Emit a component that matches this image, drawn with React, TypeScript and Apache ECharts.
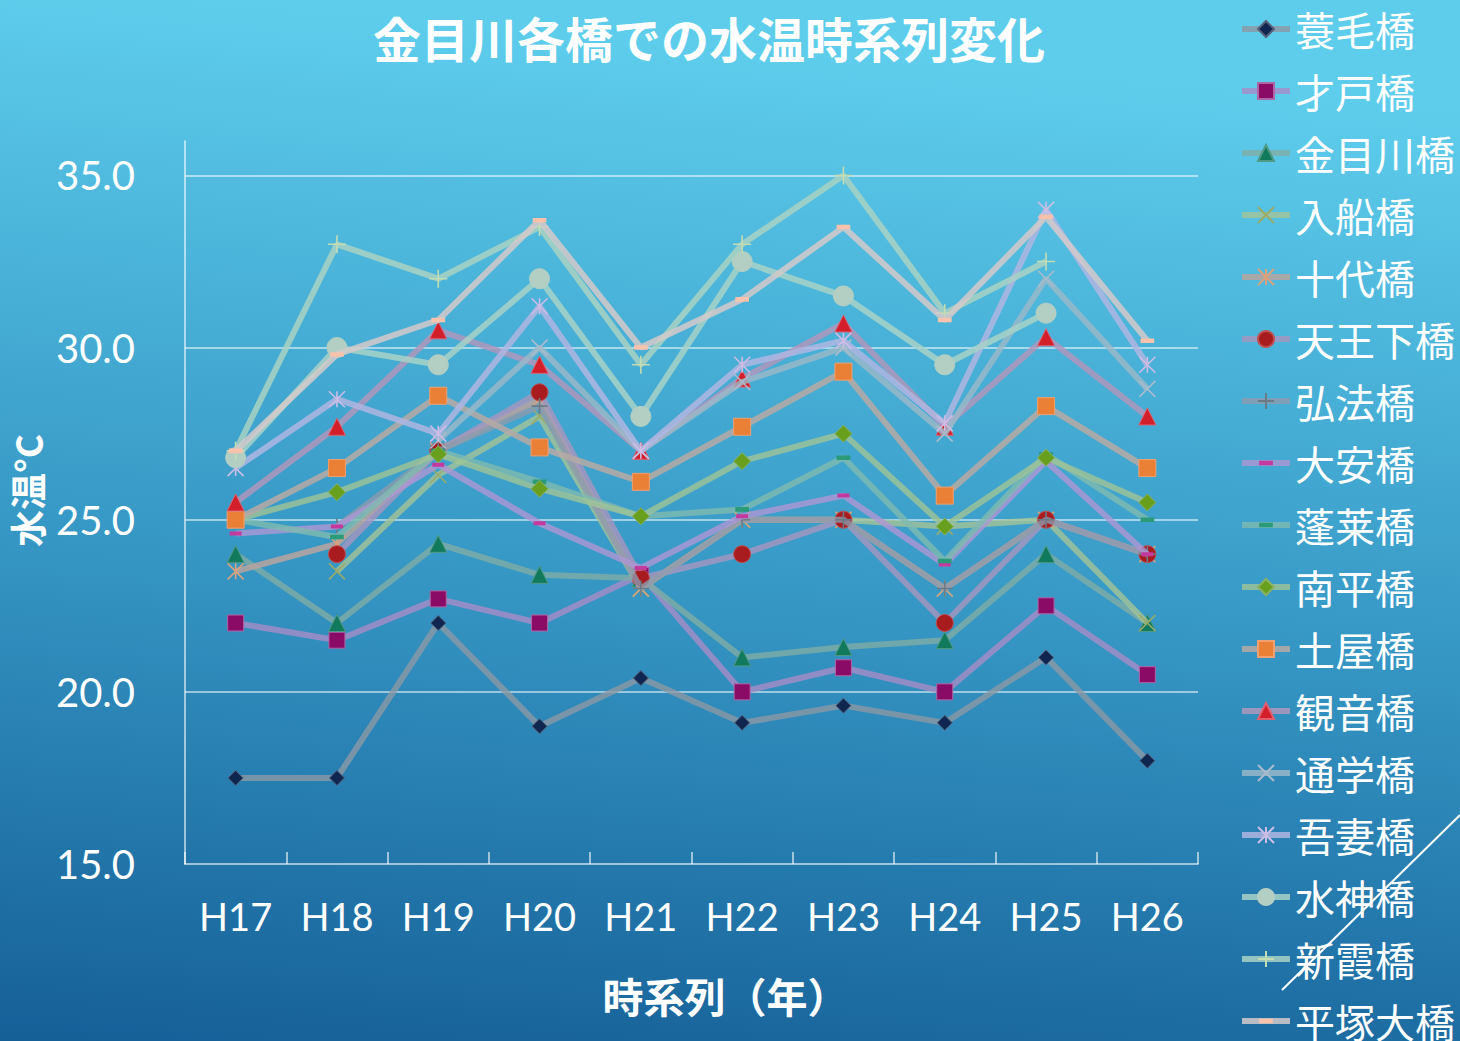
import React, { useEffect, useRef } from "react";
import * as echarts from "echarts";

const categories = ["H17", "H18", "H19", "H20", "H21", "H22", "H23", "H24", "H25", "H26"];

const seriesNames = [
  "蓑毛橋", "才戸橋", "金目川橋", "入船橋", "十代橋", "天王下橋", "弘法橋", "大安橋",
  "蓬莱橋", "南平橋", "土屋橋", "観音橋", "通学橋", "吾妻橋", "水神橋", "新霞橋", "平塚大橋",
];

const minoge = [17.5, 17.5, 22.0, 19.0, 20.4, 19.1, 19.6, 19.1, 21.0, 18.0];
const saido = [22.0, 21.5, 22.7, 22.0, 23.4, 20.0, 20.7, 20.0, 22.5, 20.5];
const kanamegawa = [24.0, 22.0, 24.3, 23.4, 23.3, 21.0, 21.3, 21.5, 24.0, 22.0];
const irifune = [null, 23.5, 26.3, 28.0, 23.0, 25.0, 25.0, 24.8, 25.0, 22.0];
const judai = [23.5, 24.3, 27.0, 28.5, 23.0, 25.0, 25.0, 23.0, 25.0, 24.0];
const tennoshita = [null, 24.0, 27.0, 28.7, 23.3, 24.0, 25.0, 22.0, 25.0, 24.0];
const kobo = [null, 24.8, 27.0, 28.3, 23.0, 25.0, 25.0, 23.0, 25.0, 24.0];
const daian = [24.6, 24.8, 26.6, 24.9, 23.6, 25.1, 25.7, 23.7, 26.7, 24.0];
const horai = [25.0, 24.5, 27.0, 26.1, 25.1, 25.3, 26.8, 23.8, 26.9, 25.0];
const nampei = [25.0, 25.8, 26.9, 25.9, 25.1, 26.7, 27.5, 24.8, 26.8, 25.5];
const tsuchiya = [25.0, 26.5, 28.6, 27.1, 26.1, 27.7, 29.3, 25.7, 28.3, 26.5];
const kannon = [25.5, 27.7, 30.5, 29.5, 27.0, 29.1, 30.7, 27.7, 30.3, 28.0];
const tsugaku = [null, null, 27.3, 30.0, 27.0, 29.0, 30.0, 27.5, 32.0, 28.8];
const azuma = [26.5, 28.5, 27.5, 31.2, 27.0, 29.5, 30.2, 27.8, 34.0, 29.5];
const suijin = [26.8, 30.0, 29.5, 32.0, 28.0, 32.5, 31.5, 29.5, 31.0, null];
const shinkasumi = [27.0, 33.0, 32.0, 33.5, 29.5, 33.0, 35.0, 31.0, 32.5, null];
const hiratsuka = [27.0, 29.8, 30.8, 33.7, 30.0, 31.4, 33.5, 30.8, 33.8, 30.2];

const seriesValues = [
  minoge, saido, kanamegawa, irifune, judai, tennoshita, kobo, daian,
  horai, nampei, tsuchiya, kannon, tsugaku, azuma, suijin, shinkasumi, hiratsuka,
];

const yTicks = [15, 20, 25, 30, 35];

const SYM_X = "path://M0,0L10,10M10,0L0,10";
const SYM_AST = "path://M0,0L10,10M10,0L0,10M5,0L5,10";
const SYM_PLUS = "path://M5,0L5,10M0,5L10,5";
// square bounding box (zero-area corner points) with a filled dash in the middle
const SYM_DASH = "path://M0,0L0.01,0L0,0ZM1,5L13,5L13,9L1,9ZM14,14L13.99,14L14,14Z";

type Sty = { line: string; marker: string; border: string; symbol: string; size: number; stroke?: boolean; dash?: boolean };

const styles: Sty[] = [
  { line: "rgba(140,152,165,0.8)", marker: "#0f2650", border: "#55607a", symbol: "diamond", size: 15 },
  { line: "rgba(168,140,200,0.8)", marker: "#8a0b66", border: "#b065a5", symbol: "rect", size: 16 },
  { line: "rgba(128,172,165,0.8)", marker: "#127a5c", border: "#4f9a85", symbol: "triangle", size: 17 },
  { line: "rgba(165,195,150,0.8)", marker: "#9aaa68", border: "#9aaa68", symbol: SYM_X, size: 16, stroke: true },
  { line: "rgba(185,165,160,0.85)", marker: "#d9a27c", border: "#d9a27c", symbol: SYM_AST, size: 16, stroke: true },
  { line: "rgba(168,150,190,0.8)", marker: "#a81c1f", border: "#c05050", symbol: "circle", size: 17 },
  { line: "rgba(140,155,172,0.8)", marker: "#6b7b86", border: "#6b7b86", symbol: SYM_PLUS, size: 16, stroke: true },
  { line: "rgba(175,150,212,0.8)", marker: "#c4399e", border: "#c4399e", symbol: SYM_DASH, size: 14, dash: true },
  { line: "rgba(128,186,175,0.8)", marker: "#2a9a78", border: "#2a9a78", symbol: SYM_DASH, size: 16, dash: true },
  { line: "rgba(160,196,150,0.8)", marker: "#68a01e", border: "#8ab060", symbol: "diamond", size: 17 },
  { line: "rgba(180,170,165,0.88)", marker: "#ea8035", border: "#f0a070", symbol: "rect", size: 17 },
  { line: "rgba(175,150,188,0.85)", marker: "#d21f2a", border: "#e06070", symbol: "triangle", size: 17 },
  { line: "rgba(158,185,200,0.8)", marker: "#aabccc", border: "#aabccc", symbol: SYM_X, size: 16, stroke: true },
  { line: "rgba(175,182,226,0.85)", marker: "#cdbde5", border: "#cdbde5", symbol: SYM_AST, size: 16, stroke: true },
  { line: "rgba(168,210,200,0.85)", marker: "#b3cfc3", border: "#b3cfc3", symbol: "circle", size: 20 },
  { line: "rgba(168,210,195,0.85)", marker: "#c4dcb2", border: "#c4dcb2", symbol: SYM_PLUS, size: 18, stroke: true },
  { line: "rgba(212,202,202,0.85)", marker: "#f8c2ac", border: "#f8c2ac", symbol: SYM_DASH, size: 16, dash: true },
];

const NUM_FONT = "Lato, 'Noto Sans', sans-serif";
const JP_FONT = "'Noto Sans CJK JP', sans-serif";

export default function App() {
  const ref = useRef<HTMLDivElement>(null);

  useEffect(() => {
    document.body.style.margin = "0";
    const chart = echarts.init(ref.current!, null, { renderer: "svg" });

    const series = seriesNames.map((name, i) => {
      const s = styles[i];
      let itemStyle: any;
      if (s.stroke) itemStyle = { color: s.marker, borderColor: s.marker, borderWidth: 1.6 };
      else if (s.dash) itemStyle = { color: s.marker, borderWidth: 0 };
      else itemStyle = { color: s.marker, borderColor: s.border, borderWidth: 1 };
      return {
        name,
        type: "line",
        data: seriesValues[i],
        symbol: s.symbol,
        symbolSize: s.size,
        symbolKeepAspect: true,
        connectNulls: false,
        lineStyle: { color: s.line, width: 6 },
        itemStyle,
        emphasis: { disabled: true },
        z: 2 + i,
      };
    });

    chart.setOption({
      animation: false,
      backgroundColor: new echarts.graphic.LinearGradient(0, 1, 0.12, 0, [
        { offset: 0, color: "#155f97" },
        { offset: 0.5, color: "#3799c6" },
        { offset: 1, color: "#5ecdec" },
      ]),
      title: {
        text: "金目川各橋での水温時系列変化",
        left: 704,
        top: 8,
        textAlign: "center",
        textStyle: { color: "#ffffff", fontSize: 48, fontWeight: "bold", fontFamily: JP_FONT },
      },
      legend: {
        orient: "vertical",
        left: 1239,
        top: 9,
        height: 1100,
        padding: 0,
        itemWidth: 48,
        itemHeight: 20,
        itemGap: 22,
        symbolKeepAspect: true,
        lineStyle: { width: 6 },
        textStyle: { color: "#ffffff", fontSize: 40, lineHeight: 36, fontFamily: JP_FONT },
        data: seriesNames,
      },
      grid: { left: 184, right: 262, top: 141, bottom: 177, containLabel: false },
      xAxis: {
        type: "category",
        data: categories,
        boundaryGap: true,
        name: "時系列（年）",
        nameLocation: "middle",
        nameGap: 110,
        nameTextStyle: {
          color: "#ffffff",
          fontSize: 41,
          fontWeight: "bold",
          fontFamily: JP_FONT,
          padding: [0, 0, 0, 68],
        },
        axisLine: { show: true, lineStyle: { color: "rgba(255,255,255,0.75)", width: 1.5 } },
        axisTick: { show: true, inside: true, length: 12, lineStyle: { color: "rgba(255,255,255,0.75)", width: 1.5 } },
        axisLabel: { color: "#ffffff", fontSize: 38, margin: 33, fontFamily: NUM_FONT },
        splitLine: { show: false },
      },
      yAxis: {
        type: "value",
        min: yTicks[0],
        max: 36,
        interval: 5,
        name: "水温°C",
        nameLocation: "middle",
        nameRotate: 90,
        nameGap: 140,
        nameTextStyle: {
          color: "#ffffff",
          fontSize: 37,
          fontWeight: "bold",
          fontFamily: JP_FONT,
          padding: [0, 0, 0, 24],
        },
        axisLine: { show: true, lineStyle: { color: "rgba(255,255,255,0.75)", width: 1.5 } },
        axisTick: { show: false },
        axisLabel: {
          color: "#ffffff",
          fontSize: 40,
          margin: 50,
          fontFamily: NUM_FONT,
          showMaxLabel: false,
          formatter: (v: number) => (yTicks.includes(v) ? v.toFixed(1) : ""),
        },
        splitLine: {
          show: true,
          showMaxLine: false,
          showMinLine: false,
          lineStyle: { color: "rgba(255,255,255,0.7)", width: 1.5 },
        },
      },
      graphic: [
        {
          type: "line",
          shape: { x1: 1282, y1: 990, x2: 1460, y2: 815 },
          style: { stroke: "#ffffff", lineWidth: 2 },
          silent: true,
        },
      ],
      series,
    });

    return () => chart.dispose();
  }, []);

  return <div ref={ref} style={{ width: 1460, height: 1041 }} />;
}
